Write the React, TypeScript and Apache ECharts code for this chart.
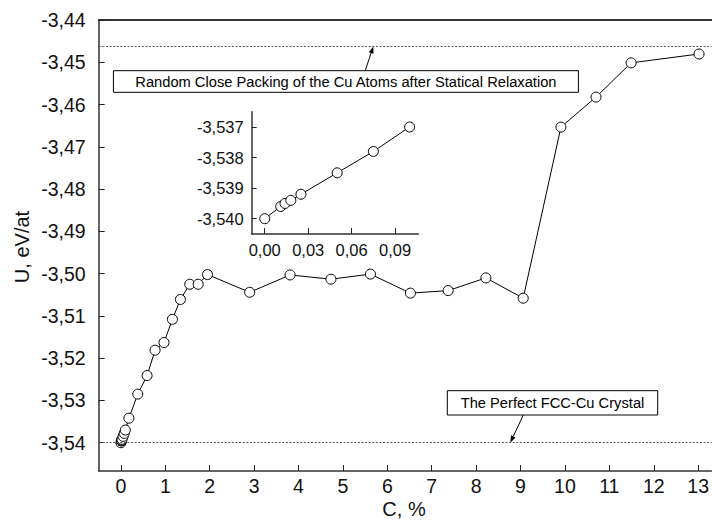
import React, { useEffect, useRef } from "react";
import * as echarts from "echarts";

// Concentration C (%) and potential energy U (eV/atom) of the copper model
const concentration = [
  0, 0.011, 0.014, 0.018, 0.025, 0.05, 0.075, 0.1, 0.18, 0.38, 0.59, 0.77, 0.97,
  1.16, 1.34, 1.55, 1.74, 1.95, 2.9, 3.81, 4.73, 5.62, 6.52, 7.37, 8.22, 9.06,
  9.91, 10.7, 11.49, 13.02,
];
const energy = [
  -3.54, -3.5396, -3.5395, -3.5394, -3.5392, -3.5385, -3.5378, -3.537, -3.5342,
  -3.5285, -3.5241, -3.5181, -3.5163, -3.5108, -3.5061, -3.5025, -3.5025,
  -3.5002, -3.5044, -3.5003, -3.5013, -3.5001, -3.5046, -3.504, -3.501,
  -3.5058, -3.4653, -3.4582, -3.4501, -3.448,
];

// Low-concentration detail shown in the inset
const insetConcentration = [0, 0.011, 0.014, 0.018, 0.025, 0.05, 0.075, 0.1];
const insetEnergy = [
  -3.54, -3.5396, -3.5395, -3.5394, -3.5392, -3.5385, -3.5378, -3.537,
];

// Tick positions
const xTicks = [0, 1, 2, 3, 4, 5, 6, 7, 8, 9, 10, 11, 12, 13];
const yTicks = [
  -3.54, -3.53, -3.52, -3.51, -3.5, -3.49, -3.48, -3.47, -3.46, -3.45, -3.44,
];
const insetXTicks = [0, 0.03, 0.06, 0.09];
const insetYTicks = [-3.54, -3.539, -3.538, -3.537];

// Reference energy levels
const rcpLevel = -3.4462; // random close packing after statical relaxation
const fccLevel = -3.54; // perfect FCC crystal

const rcpLabel = "Random Close Packing of the Cu Atoms after Statical Relaxation";
const fccLabel = "The Perfect FCC-Cu Crystal";

const FONT = "'Liberation Sans', Arial, Helvetica, sans-serif";

const comma = (digits: number) => (v: number) =>
  v.toFixed(digits).replace(".", ",");

function arrow(from: number[], to: number[]) {
  const dx = to[0] - from[0];
  const dy = to[1] - from[1];
  const len = Math.hypot(dx, dy);
  const ux = dx / len;
  const uy = dy / len;
  const head = 7;
  const half = 2.5;
  const bx = to[0] - ux * head;
  const by = to[1] - uy * head;
  return [
    {
      type: "line",
      silent: true,
      shape: { x1: from[0], y1: from[1], x2: bx, y2: by },
      style: { stroke: "#000", lineWidth: 1 },
    },
    {
      type: "polygon",
      silent: true,
      shape: {
        points: [
          [to[0], to[1]],
          [bx - uy * half, by + ux * half],
          [bx + uy * half, by - ux * half],
        ],
      },
      style: { fill: "#000" },
    },
  ];
}

export default function App() {
  const ref = useRef<HTMLDivElement>(null);

  useEffect(() => {
    if (!ref.current) return;
    const chart = echarts.init(ref.current, undefined, { renderer: "svg" });

    const axisLine = { show: true, lineStyle: { color: "#333", width: 1.5 } };

    chart.setOption({
      animation: false,
      backgroundColor: "#fff",
      grid: [
        { left: 98.7, top: 20.2, width: 613.3, height: 450.8 },
        { left: 251.7, top: 111.7, width: 166.6, height: 122.3 },
      ],
      xAxis: [
        {
          type: "value",
          gridIndex: 0,
          min: -0.5,
          max: 13.3,
          splitLine: { show: false },
          axisLine: { ...axisLine, onZero: false },
          axisTick: {
            show: true,
            inside: true,
            length: 6,
            customValues: xTicks,
            lineStyle: { color: "#222", width: 1 },
          },
          axisLabel: {
            customValues: xTicks,
            fontSize: 19.5,
            fontFamily: FONT,
            color: "#111",
            margin: 5,
          },
        },
        {
          type: "value",
          gridIndex: 0,
          position: "top",
          min: -0.5,
          max: 13.3,
          splitLine: { show: false },
          axisLine: { show: true, onZero: false, lineStyle: { color: "#333", width: 2 } },
          axisTick: { show: false },
          axisLabel: { show: false },
        },
        {
          type: "value",
          gridIndex: 1,
          min: -0.009,
          max: 0.106,
          splitLine: { show: false },
          axisLine: { ...axisLine, onZero: false },
          axisTick: {
            show: true,
            inside: true,
            length: 6,
            customValues: insetXTicks,
            lineStyle: { color: "#222", width: 1 },
          },
          axisLabel: {
            customValues: insetXTicks,
            formatter: comma(2),
            fontSize: 16.5,
            fontFamily: FONT,
            color: "#111",
            margin: 7,
          },
        },
      ],
      yAxis: [
        {
          type: "value",
          gridIndex: 0,
          min: -3.5467,
          max: -3.44,
          splitLine: { show: false },
          axisLine: { ...axisLine, onZero: false },
          axisTick: {
            show: true,
            inside: true,
            length: 6,
            customValues: yTicks,
            lineStyle: { color: "#222", width: 1 },
          },
          axisLabel: {
            customValues: yTicks,
            formatter: comma(2),
            fontSize: 19.5,
            fontFamily: FONT,
            color: "#111",
            margin: 13,
          },
        },
        {
          type: "value",
          gridIndex: 1,
          min: -3.5405,
          max: -3.5365,
          splitLine: { show: false },
          axisLine: { ...axisLine, onZero: false },
          axisTick: {
            show: true,
            inside: true,
            length: 5,
            customValues: insetYTicks,
            lineStyle: { color: "#222", width: 1 },
          },
          axisLabel: {
            customValues: insetYTicks,
            formatter: comma(3),
            fontSize: 16.5,
            fontFamily: FONT,
            color: "#111",
            margin: 8,
          },
        },
      ],
      series: [
        {
          type: "line",
          xAxisIndex: 0,
          yAxisIndex: 0,
          data: concentration.map((c, i) => [c, energy[i]]),
          symbol: "circle",
          symbolSize: 10,
          showAllSymbol: true,
          lineStyle: { color: "#000", width: 1 },
          itemStyle: { color: "#fff", borderColor: "#000", borderWidth: 1 },
          z: 3,
          markLine: {
            silent: true,
            precision: 5,
            symbol: ["none", "none"],
            label: { show: false },
            lineStyle: { color: "#555", width: 1, type: [2, 1.6] },
            data: [{ yAxis: rcpLevel }, { yAxis: fccLevel }],
          },
        },
        {
          type: "line",
          xAxisIndex: 2,
          yAxisIndex: 1,
          data: insetConcentration.map((c, i) => [c, insetEnergy[i]]),
          symbol: "circle",
          symbolSize: 10,
          showAllSymbol: true,
          lineStyle: { color: "#000", width: 1 },
          itemStyle: { color: "#fff", borderColor: "#000", borderWidth: 1 },
          z: 3,
        },
      ],
    });

    // Annotation boxes with arrows pointing at the reference levels
    const rcpTip = chart.convertToPixel({ gridIndex: 0 }, [5.685, rcpLevel]) as number[];
    const fccTip = chart.convertToPixel({ gridIndex: 0 }, [8.77, fccLevel]) as number[];

    const box = (x: number, y: number, w: number, h: number, text: string) => [
      {
        type: "rect",
        silent: true,
        shape: { x, y, width: w, height: h },
        style: { fill: "#fff", stroke: "#000", lineWidth: 1 },
        z: 10,
      },
      {
        type: "text",
        silent: true,
        x: x + w / 2,
        y: y + h / 2,
        style: {
          text,
          fontSize: 14.7,
          fontFamily: FONT,
          fill: "#000",
          align: "center",
          verticalAlign: "middle",
        },
        z: 11,
      },
    ];

    chart.setOption({
      graphic: [
        ...box(113.4, 70.7, 465, 21.6, rcpLabel),
        ...arrow([365.2, 70.7], rcpTip),
        ...box(447.3, 390.7, 210.4, 24.3, fccLabel),
        ...arrow([523.3, 415], fccTip),
        {
          type: "text",
          silent: true,
          x: 22,
          y: 247,
          rotation: Math.PI / 2,
          style: {
            text: "U, eV/at",
            fontSize: 20,
            fontFamily: FONT,
            fill: "#111",
            align: "center",
            verticalAlign: "middle",
          },
        },
        {
          type: "text",
          silent: true,
          x: 404,
          y: 509,
          style: {
            text: "C, %",
            fontSize: 20,
            fontFamily: FONT,
            fill: "#111",
            align: "center",
            verticalAlign: "middle",
          },
        },
      ],
    });

    return () => chart.dispose();
  }, []);

  return (
    <div
      ref={ref}
      style={{ position: "fixed", left: 0, top: 0, width: 712, height: 522 }}
    />
  );
}
